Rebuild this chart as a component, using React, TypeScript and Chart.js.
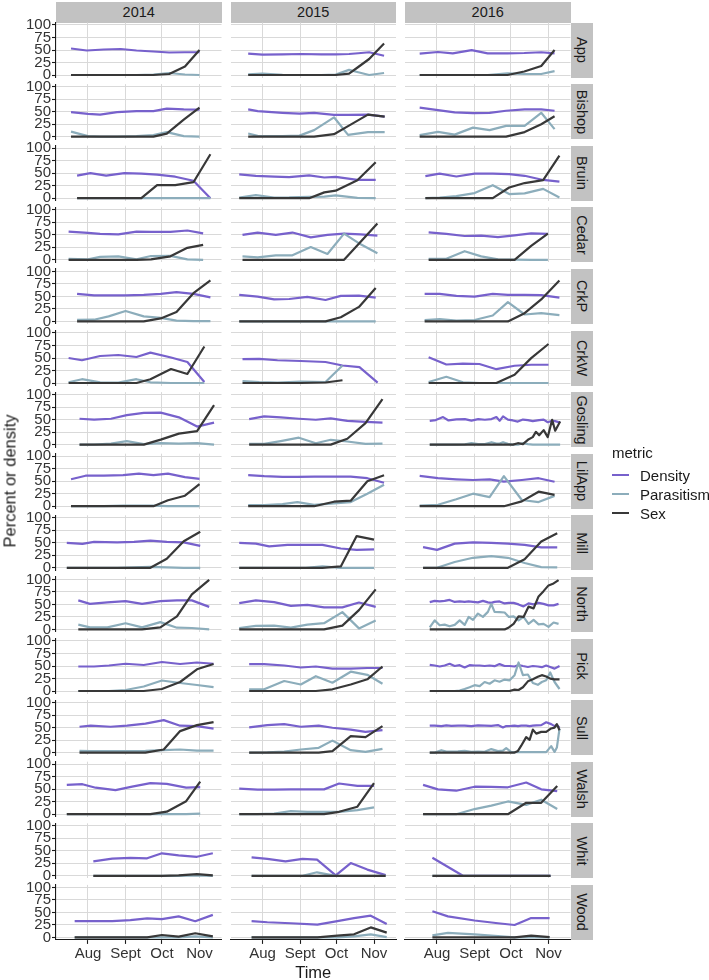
import React, { useEffect, useRef } from "react";
import { Chart, registerables } from "chart.js";

Chart.register(...registerables);

// ---------------- DATA ----------------
// x values are days relative to 1 August (Aug=0, Sept=31, Oct=61, Nov=92)
const SITES = ["App", "Bishop", "Bruin", "Cedar", "CrkP", "CrkW", "Gosling", "LilApp", "Mill", "North", "Pick", "Sull", "Walsh", "Whit", "Wood"];
const YEARS = ["2014", "2015", "2016"];
const METRICS = ["Density", "Parasitism", "Sex"];
const Y_TICKS = [0, 25, 50, 75, 100];
const X_TICK_DAYS = [0, 31, 61, 92];
const X_TICK_LABELS = ["Aug", "Sept", "Oct", "Nov"];

type V = number | null;
type Panel = { t: number[]; d: V[]; p: V[]; s: V[] };

// ---- 2014 ----
const app2014: Panel = { t: [-14, -1, 13, 27, 40, 54, 67, 80, 92], d: [53, 49, 51, 52, 49, 47, 45, 45.5, 45.5], p: [0, 0, 0, 0, 0, 1, 4, 1, 0], s: [0, 0, 0, 0, 0, 0, 2, 17, 50] };
const bishop2014: Panel = { t: [-14, 0, 10, 24, 40, 54, 65, 79, 92], d: [49, 45.5, 44, 49, 51, 51, 56, 54.5, 54], p: [10, 1, 0, 0, 1, 3, 9, 1, 0], s: [0, 0, 0, 0, 0, 0, 6, 34, 58] };
const bruin2014: Panel = { t: [-9, 2, 15, 30, 44, 57, 72, 87, 101], d: [45, 50, 45, 50, 49, 47, 43, 35, 0], p: [0, 0, 0, 0, 0, 0, 0, 0, 0], s: [0, 0, 0, 0, 0, 26, 26, 32, 88] };
const cedar2014: Panel = { t: [-16, 0, 10, 25, 40, 52, 68, 82, 95], d: [56.5, 54, 52, 51, 56.5, 56, 56, 58.6, 53], p: [2, 1, 6, 7, 1, 7.5, 8, 1, 0], s: [0, 0, 0, 0, 0, 1, 7, 24, 30] };
const crkp2014: Panel = { t: [-9, 5, 17, 31, 46, 60, 73, 87, 101], d: [55, 52, 52, 52, 53, 55, 58.6, 55, 48], p: [3, 3.4, 10, 20.7, 10, 7, 1.4, 0.5, 0.5], s: [0, 0, 0, 0, 0, 6, 18.6, 56.5, 82] };
const crkw2014: Panel = { t: [-16, -5, 10, 25, 40, 51.5, 68.5, 82, 96], d: [50, 45.5, 54, 56, 52, 60.7, 51, 42, 2], p: [1.4, 7.6, 1.4, 0.7, 7.6, 1.4, 0, 0, 0], s: [0, 0, 0, 0, 0, 7.6, 28, 18, 73] };
const gosling2014: Panel = { t: [-7, 5, 19, 32, 46, 60, 75, 90, 104], d: [51.7, 50, 51.7, 59, 63.4, 64, 54.5, 36, 44], p: [0, 0, 2, 7, 1, 3, 2, 3, 0], s: [0, 0, 0, 0, 0, 10, 22, 27, 79] };
const lilapp2014: Panel = { t: [-14, -2, 13, 29, 42, 54, 66, 80, 92], d: [54, 61, 61, 62, 65, 62, 65, 58, 54.5], p: [0, 0, 0, 1, 1, 1, 0, 0, 0], s: [0, 0, 0, 0, 0, 0, 12, 21, 44] };
const mill2014: Panel = { t: [-17.5, -4.6, 5, 24, 38, 51.5, 65, 79, 92.6], d: [49.7, 48, 52, 51, 52, 54.5, 52, 51, 44], p: [0, 0, 0, 0, 1, 2, 1, 0, 0], s: [0, 0, 0, 0, 0, 0, 18, 53, 72] };
const north2014: Panel = { t: [-8, 1.6, 16, 31, 44.6, 59.7, 73.4, 85.7, 100], d: [58, 51, 54, 56.5, 51, 56.5, 58, 58, 45], p: [9.6, 4, 4, 12.4, 4, 14.5, 3.4, 2.8, 0], s: [0, 0, 0, 0, 0, 4, 26, 70, 99] };
const pick2014: Panel = { t: [-8, 5, 17.3, 31, 46, 61, 76, 89.9, 103.6], d: [49, 49, 51, 54.5, 52, 58, 54, 57, 54.5], p: [0, 0, 0, 2, 9, 21, 16, 12, 7.6], s: [0, 0, 0, 0, 0, 4, 18, 43.4, 54] };
const sull2014: Panel = { t: [-7, 2.2, 18.6, 32.3, 47.4, 62.5, 76, 89.9, 103.6], d: [51.7, 53.8, 51.7, 53.8, 58, 65, 53.8, 53, 48], p: [3.4, 3, 2.8, 3, 3.4, 4.8, 6.2, 4, 4], s: [0, 0, 0, 0, 0, 6.2, 43, 55, 61] };
const walsh2014: Panel = { t: [-17.5, -4.6, 6.3, 22.7, 36.4, 51.5, 65, 81, 92.6], d: [58.6, 60, 53, 48, 55, 62, 60.7, 53, 54], p: [0, 0, 0, 0, 0, 0, 0, 0, 1], s: [0, 0, 0, 0, 0, 0, 5, 26, 65] };
const whit2014: Panel = { t: [4.4, 20, 35, 48.8, 61, 74.8, 89.9, 103], d: [29, 34.5, 36, 35, 45, 41, 38, 45], p: [0, 0, 0, 0, 0, 0, 1, 0], s: [0, 0, 0, 0, 0, 1, 3.4, 1] };
const wood2014: Panel = { t: [-11, 5, 20, 35, 48.8, 61, 74.8, 88.5, 103], d: [32.4, 32.4, 32.4, 34.5, 38, 36.5, 42, 32.4, 45], p: [0, 0, 0, 0, 0, 0, 0, 2, 0], s: [0, 0, 0, 0, 0, 4.8, 1.4, 8.3, 2] };

// ---- 2015 ----
const app2015: Panel = { t: [-11.8, 0, 16.5, 32, 48.4, 60.4, 71.4, 79, 88, 100.3], d: [42.8, 40.7, 41.4, 42, 41.4, 41.4, 42, 43.5, 45.5, 38.6], p: [1.4, 2.8, 0.5, 0, 0, 0.7, 10.3, 5.5, 0, 4], s: [0, 0, 0, 0, 0, 0, 2.8, 16, 32, 62.8] };
const bishop2015: Panel = { t: [-11.8, -4, 16.5, 30.5, 42.6, 59, 70.6, 87, 100.8], d: [54.5, 51, 47.6, 46, 47.6, 43.4, 43.4, 44, 40], p: [6.2, 1.4, 1, 2, 13, 38.6, 3.4, 9, 9], s: [0, 0, 0, 0, 0, 4.8, 21, 44, 40] };
const bruin2015: Panel = { t: [-19.2, -5.5, 9.6, 22, 38.5, 51, 60.4, 78.3, 93.4], d: [47.6, 44.5, 43, 42, 45.5, 41.4, 42.8, 36.5, 36.5], p: [1.4, 6.2, 1.4, 1.5, 2.8, 3, 5.5, 0.7, 0], s: [0, 0, 0, 0, 0, 11.7, 15, 36, 72] };
const cedar2015: Panel = { t: [-16.5, -4, 11, 24.7, 39.8, 53.6, 67.3, 81, 94.8], d: [49.7, 54.5, 49.7, 54.5, 44.8, 49.7, 52.4, 51, 48.3], p: [7, 5, 9, 9, 25.5, 11.7, 52.4, 31, 13], s: [0, 0, 0, 0, 0, 0, 0, 36, 72.4] };
const crkp2015: Panel = { t: [-19.2, -4, 9.6, 22, 37, 52, 64.6, 79.6, 93.4], d: [53, 49.7, 44, 44.8, 49, 42.8, 51, 51.7, 47.6], p: [0, 0, 0, 0, 0, 0, 0, 0, 0], s: [0, 0, 0, 0, 0, 0, 8.3, 29, 67] };
const crkw2015: Panel = { t: [-16.5, -2.7, 12.4, 31.6, 52, 66, 80, 95], d: [47.6, 48.3, 45.5, 44, 42, 35, 31.7, 0.7], p: [4, 2, 1, 2.8, 2, 35, null, null], s: [0, 0, 0, 0, 1, 5.5, null, null] };
const gosling2015: Panel = { t: [-11, 1.4, 15, 30, 44, 56.3, 70, 85, 99], d: [51, 56.5, 54.5, 51.7, 49.7, 52.4, 47.6, 45.5, 44], p: [1.4, 1.4, 7, 13.8, 2.8, 9.6, 6.2, 1.4, 2], s: [0, 0, 0, 0, 0, 0, 11.7, 42.8, 91] };
const lilapp2015: Panel = { t: [-11.8, 1.4, 16.5, 28.8, 42.6, 59, 72.8, 86.5, 100.3], d: [62, 60, 58.6, 58.6, 59, 59, 59, 56, 47], p: [2, 2, 4, 8.3, 2.8, 5.5, 8.3, 25, 43], s: [0, 0, 0, 0, 0, 9, 11, 50, 62] };
const mill2015: Panel = { t: [-19.2, -5.5, 5.5, 20.6, 35.7, 49.5, 64.6, 77.7, 92], d: [49.7, 48.3, 42.8, 46, 46, 46, 38.6, 35.9, 37], p: [0, 0, 0, 0, 0, 2.8, 0, 0, 0], s: [0, 0, 0, 0, 0, 0, 2.8, 63.4, 56.5] };
const north2015: Panel = { t: [-19.2, -5.5, 9.6, 23.4, 37, 50.8, 65.9, 79.6, 93.4], d: [52.4, 58, 54.5, 47, 49, 44, 44, 53.8, 45], p: [2.8, 7, 7.6, 3.4, 9.6, 12.4, 34.5, 2, 18], s: [0, 0, 0, 0, 0, 0, 7.6, 38.6, 80] };
const pick2015: Panel = { t: [-11, 1.4, 17.9, 31.6, 44, 57.7, 72.8, 86.5, 99], d: [53.8, 53.8, 51, 47, 49, 44.8, 44.8, 46, 46], p: [3.4, 3.4, 20, 13, 29.6, 16.5, 38.6, 32.4, 14.5], s: [0, 0, 0, 0, 0, 3.4, 13, 23.4, 49] };
const sull2015: Panel = { t: [-11, 4, 17.9, 31.6, 46.4, 57.7, 72.8, 85, 99], d: [50.3, 55, 57, 51.7, 53.8, 49.7, 46, 41.4, 44.8], p: [0, 0.5, 2, 6.2, 9.6, 24, 4.8, 1.4, 7.6], s: [0, 0, 0, 0, 0, 2.8, 33, 31, 53] };
const walsh2015: Panel = { t: [-19.2, -4, 9.6, 23.4, 37, 50.8, 63.2, 78.3, 92], d: [51, 49, 49, 49.7, 49.7, 49.7, 61.4, 56.5, 56.5], p: [0, 0, 1.4, 6.2, 4.8, 4.8, 4.8, 8.3, 13.8], s: [0, 0, 0, 0, 0, 0, 4.8, 15, 62] };
const whit2015: Panel = { t: [-9, 4, 19, 33, 45, 60.4, 72.8, 86.5, 101.6], d: [37, 33.8, 29, 33.8, 32.4, 0.7, 25.5, 12.4, 1.4], p: [0, 0, 0, 0, 7, 0, 0, 0, 0], s: [0, 0, 0, 0, 0, 0, 0, 0, 0] };
const wood2015: Panel = { t: [-9, 4, 23.4, 45.3, 61.8, 75.5, 89.3, 102.5], d: [32.4, 30.3, 28.3, 25.5, 32.4, 38.6, 43.4, 27], p: [0, 0, 0, 0, 0, 2, 6.2, 0.7], s: [0, 0, 0, 0, 3.4, 6.2, 20, 9.6] };

// ---- 2016 ----
const app2016: Panel = { t: [-14.3, 0.8, 13, 28.6, 41.8, 58.2, 72, 86, 97], d: [42.8, 46, 43.4, 49.7, 43.4, 43.4, 44, 45.5, 43.4], p: [0, 0, 0, 0, 0, 3.4, 2, 2, 7.6], s: [0, 0, 0, 0, 0, 0, 7, 18, 50] };
const bishop2016: Panel = { t: [-14.3, 0.8, 14.6, 29.7, 43.4, 57, 72.3, 86, 97], d: [58, 53, 48.3, 47, 47.6, 51.7, 54.5, 54.5, 51.7], p: [2.8, 9.6, 4, 18, 13, 21.4, 21.4, 47.6, 15], s: [0, 0, 0, 0, 0, 0, 9, 24.8, 40.7] };
const bruin2016: Panel = { t: [-9.6, 2.2, 16, 31, 46, 59.6, 72.3, 87.6, 101], d: [44, 49, 43.4, 49, 49, 48.3, 44.8, 36.5, 33], p: [0, 1, 4, 10.3, 26, 8.3, 9.6, 18.6, 1.4], s: [0, 0, 0, 0, 0, 21.4, 30.3, 36, 85] };
const cedar2016: Panel = { t: [-6.9, 7.7, 22.8, 36.5, 50.3, 64, 77.7, 91.5], d: [55, 51.7, 47.6, 48.3, 45.5, 49, 53, 51.7], p: [2, 2, 17.2, 6.9, 0.7, 0.5, 0, 0], s: [0, 0, 0, 0, 0, 0, 28, 52.4] };
const crkp2016: Panel = { t: [-10.2, 2.2, 16, 31, 46, 58.5, 72.3, 86, 101], d: [55, 55, 51, 49.7, 55, 53, 53, 52.4, 47.6], p: [2.8, 4.8, 1.4, 2.8, 11.7, 38.6, 13.8, 16.5, 12.4], s: [0, 0, 0, 0, 0, 0, 16.5, 44, 82] };
const crkw2016: Panel = { t: [-6.9, 7.7, 21.4, 35, 49, 64, 77.7, 92], d: [51.7, 37, 38.6, 38, 27.6, 34.5, 36.5, 36.5], p: [2, 12.4, 1.4, 0, 0, 0, 0, 0], s: [0, 0, 0, 0, 0, 16.5, 49.7, 78] };
const gosling2016: Panel = {
  t: [-6, -1, 5, 9.5, 16, 23, 28.4, 34, 39.5, 45, 49, 51.7, 54.5, 58.5, 62.6, 66.7, 70.9, 75, 79, 81.6, 84.3, 88, 91.4, 95, 97.5, 101.6],
  d: [47.6, 49, 55, 48.3, 50.3, 51, 48, 51, 49.7, 51, 55, 47.6, 56.5, 50, 48.3, 46, 50, 49, 47, 48, 49, 50, 44.8, 47.6, 47, 44],
  p: [0, 0, 0, 0, 0, 0.5, 2.8, 1, 1, 4.8, 2, 2, 4.8, 1.4, 0, 0, 2.8, 1, 0, 0, 0, 0, 0, 0, 0, 0],
  s: [0, 0, 0, 0, 0, 0, 0, 0, 0, 0, 0, 0, 0, 0, 0, 2.8, 1, 9.6, 15, 25.5, 18.6, 29, 15, 49.7, 27.6, 46],
};
const lilapp2016: Panel = { t: [-14.3, 0.8, 15.9, 29.7, 43.4, 55.2, 70, 83.8, 97], d: [60.7, 56, 53.8, 52.4, 53.8, 49, 52.4, 56, 49], p: [1.4, 2.8, 13.8, 25, 18, 60, 12.4, 8.3, 20.7], s: [0, 0, 0, 0, 0, 0, 9.6, 29, 22.8] };
const mill2016: Panel = { t: [-11.5, 0, 14.6, 29.7, 44.8, 58.5, 72.3, 86, 99.2], d: [41.4, 35.9, 48.3, 51, 49.7, 48.3, 46, 40.7, 40.7], p: [0, 0, 11.7, 20, 23.4, 20, 9.6, 1.4, 1], s: [0, 0, 0, 0, 0, 0, 17, 52.4, 69] };
const north2016: Panel = {
  t: [-6, -1.9, 2.2, 6.3, 10.4, 14.6, 18.7, 22.8, 26.1, 29.7, 33.8, 37.9, 42, 44.8, 47.5, 51.6, 55.8, 59.3, 63.2, 67.3, 71.4, 75.5, 79.7, 83.8, 87.9, 92, 96.2, 100.3],
  d: [54.5, 57, 56, 57, 59, 55, 56, 55, 56, 55, 54, 57, 54, 53, 55, 56, 52, 53, 53, 50, 46, 52, 50, 53, 51, 48, 48, 51],
  p: [4, 18, 8.3, 9.6, 6.2, 9, 18, 9, 25, 19, 31.7, 25, 35, 51, 35, 34.5, 33.8, 25, 26, 18, 25, 11, 19, 10, 11, 5, 13.8, 11],
  s: [0, 0, 0, 0, 0, 0, 0, 0, 0, 0, 0, 0, 0, 0, 0, 0, 0, 4, 11, 26, 25, 45.5, 42, 66, 76.5, 88, 92, 98.6],
};
const pick2016: Panel = {
  t: [-6, -1.9, 2.2, 6.3, 10.4, 14.6, 18.7, 22.8, 26.9, 31, 35.2, 39.3, 43.4, 47.5, 51.6, 55.8, 59.9, 64, 67.3, 70.9, 75, 79.1, 83.2, 86.5, 90.1, 93.4, 97, 101.1],
  d: [52.4, 51, 49, 51, 54.5, 50, 51.7, 47, 51.7, 51, 51, 50, 51, 49.7, 53.8, 50, 50, 49, 52, 50, 48, 50, 49, 47.6, 51, 48, 44.8, 50],
  p: [0, 0, 0, 0, 0, 0, 0.7, 4, 7.6, 11.7, 9.6, 18, 14.5, 21.4, 18.6, 22.8, 21.4, 31.7, 57, 31.7, 33, 15.9, 12.4, 18, 21.4, 37, 18, 4],
  s: [0, 0, 0, 0, 0, 0, 0, 0, 0, 0, 0, 0, 0, 0, 0, 0, 0, 2.8, 2, 7.6, 19.3, 23.4, 28.3, 31.7, 29, 24.8, 23.4, 23.4],
};
const sull2016: Panel = {
  t: [-6, -1.9, 3.6, 7.7, 11.8, 17.3, 22.8, 28.3, 33.8, 39.3, 44.8, 50.3, 54.4, 57.1, 61.3, 64, 66.8, 69.5, 73.6, 76.4, 79.1, 81.9, 86, 90.1, 94.2, 97, 98.9, 101.1],
  d: [53.8, 54, 53, 54.5, 53.5, 54, 53.8, 53, 54.5, 54, 53.5, 55, 50.3, 53, 53.5, 54, 53, 53.8, 54, 53, 53.8, 54.5, 55, 60.7, 57, 53, 55, 49.7],
  p: [0, 0, 4.8, 2, 2, 2.5, 3.4, 1.5, 2, 1.5, 7, 3, 4, 9, 1, 1, 1, 1, 1, 1, 1, 1, 1, 1, 13, 1.4, 10, 48],
  s: [0, 0, 0, 0, 0, 0, 0, 0, 0, 0, 0, 0, 0, 0, 0, 0, 3.4, 13.8, 31, 25.5, 46, 38, 41.4, 41.4, 48.3, 50, 57, 44.8],
};
const walsh2016: Panel = { t: [-11.5, 0.8, 15.9, 31, 44.8, 58.5, 73.6, 86, 99.2], d: [58.6, 49.7, 47, 55, 54.5, 53.8, 63.4, 49.7, 46], p: [0, 0, 0, 10.3, 17.2, 25.5, 18.6, 29, 10.3], s: [0, 0, 0, 0, 0, 0, 22.8, 22.8, 56.5] };
const whit2016: Panel = { t: [-3.8, 21.4, 45, 70, 93.7], d: [36, 0, 0, 0, 0], p: [0, 0, 0, 0, 0], s: [0, 0, 0, 0, 0] };
const wood2016: Panel = { t: [-3.8, 9, 31, 50.3, 64, 77.7, 92.9], d: [52.4, 42, 33.8, 28.3, 24.8, 38.6, 38.6], p: [4, 9, 6.2, 2.8, 0, 0, 0], s: [0, 0, 0, 0, 0, 3.4, 0.7] };

const GRID: Panel[][] = [
  [app2014, app2015, app2016],
  [bishop2014, bishop2015, bishop2016],
  [bruin2014, bruin2015, bruin2016],
  [cedar2014, cedar2015, cedar2016],
  [crkp2014, crkp2015, crkp2016],
  [crkw2014, crkw2015, crkw2016],
  [gosling2014, gosling2015, gosling2016],
  [lilapp2014, lilapp2015, lilapp2016],
  [mill2014, mill2015, mill2016],
  [north2014, north2015, north2016],
  [pick2014, pick2015, pick2016],
  [sull2014, sull2015, sull2016],
  [walsh2014, walsh2015, walsh2016],
  [whit2014, whit2015, whit2016],
  [wood2014, wood2015, wood2016],
];

// ---------------- STYLE / LAYOUT ----------------
const COLORS = ["#7761CC", "#8CADBB", "#383838"];
const FONT = "'Liberation Sans', Arial, Helvetica, sans-serif";
const GRID_COLOR = "#D9D9D9";
const AXIS_COLOR = "#1A1A1A";
const TICK_COLOR = "#333333";
const STRIP_BG = "#C2C2C2";

const PLOT_LEFT = [56, 230.5, 405];
const PLOT_W = 165.5;
const PLOT_TOP = 22.5;
const ROW_PITCH = 61.6;
const PLOT_H = 55;
const PX_PER_DAY = 1.212;
const X_MIN = -26.4;
const X_MAX = X_MIN + PLOT_W / PX_PER_DAY;
const STRIP_X = 571;
const STRIP_W = 21.5;

Chart.defaults.font.family = FONT;

function PanelChart({ row, col, panel }: { row: number; col: number; panel: Panel }) {
  const ref = useRef<HTMLCanvasElement | null>(null);
  const isLeft = col === 0;
  const isBottom = row === SITES.length - 1;
  const plotLeft = PLOT_LEFT[col];
  const plotTop = PLOT_TOP + row * ROW_PITCH;
  const cLeft = isLeft ? 0 : Math.floor(plotLeft) - 2;
  const cTop = Math.floor(plotTop) - 10;
  const axisW = isLeft ? plotLeft - cLeft : 0;
  const padLeft = isLeft ? 0 : plotLeft - cLeft;
  const padTop = plotTop - cTop;
  const axisH = isBottom ? 30 : 0;
  const cW = Math.ceil(plotLeft + PLOT_W - cLeft) + 4;
  const padRight = cW - padLeft - axisW - PLOT_W;
  const cH = Math.ceil(padTop + PLOT_H + axisH) + 10;
  const padBottom = cH - padTop - PLOT_H - axisH;

  useEffect(() => {
    if (!ref.current) return;
    const series = [panel.d, panel.p, panel.s];
    const datasets = series.map((vals, k) => ({
      label: METRICS[k],
      data: panel.t.map((x, i) => ({ x, y: vals[i] })),
      borderColor: COLORS[k],
      backgroundColor: COLORS[k],
      borderWidth: 2.2,
      pointRadius: 0,
      tension: 0,
      fill: false,
      spanGaps: false,
      borderJoinStyle: "round" as const,
      order: 2 - k,
    }));
    const chart = new Chart(ref.current, {
      type: "line",
      data: { datasets },
      options: {
        responsive: false,
        animation: false,
        devicePixelRatio: 1,
        events: [],
        layout: { padding: { left: padLeft, right: padRight, top: padTop, bottom: padBottom } },
        plugins: { legend: { display: false }, tooltip: { enabled: false } },
        scales: {
          x: {
            type: "linear",
            min: X_MIN,
            max: X_MAX,
            afterBuildTicks: (ax: any) => {
              ax.ticks = X_TICK_DAYS.map((v) => ({ value: v }));
            },
            afterFit: (ax: any) => {
              ax.height = axisH;
              ax.paddingLeft = 0;
              ax.paddingRight = 0;
              ax.paddingTop = 0;
              ax.paddingBottom = 0;
            },
            grid: { color: GRID_COLOR, lineWidth: 1, drawTicks: isBottom, tickLength: 4, tickColor: AXIS_COLOR, tickWidth: 1.1 },
            border: { display: isBottom, color: AXIS_COLOR, width: 1.1 },
            ticks: {
              display: isBottom,
              autoSkip: false,
              maxRotation: 0,
              padding: 1,
              color: TICK_COLOR,
              font: { size: 15, family: FONT },
              callback: (v: any) => {
                const i = X_TICK_DAYS.indexOf(Number(v));
                return i >= 0 ? X_TICK_LABELS[i] : "";
              },
            },
          },
          y: {
            type: "linear",
            min: -5,
            max: 105,
            afterBuildTicks: (ax: any) => {
              ax.ticks = Y_TICKS.map((v) => ({ value: v }));
            },
            afterFit: (ax: any) => {
              ax.width = axisW;
              ax.paddingLeft = 0;
              ax.paddingRight = 0;
              ax.paddingTop = 0;
              ax.paddingBottom = 0;
            },
            grid: { color: GRID_COLOR, lineWidth: 1, drawTicks: isLeft, tickLength: 4, tickColor: AXIS_COLOR, tickWidth: 1.1 },
            border: { display: isLeft, color: AXIS_COLOR, width: 1.1 },
            ticks: {
              display: isLeft,
              autoSkip: false,
              padding: 1,
              color: TICK_COLOR,
              font: { size: 15, family: FONT },
              callback: (v: any) => String(v),
            },
          },
        },
      } as any,
    });
    return () => chart.destroy();
  }, []);

  return (
    <canvas
      ref={ref}
      width={cW}
      height={cH}
      style={{ position: "absolute", left: cLeft, top: cTop, width: cW, height: cH }}
    />
  );
}

export default function App() {
  const totalBottom = PLOT_TOP + (SITES.length - 1) * ROW_PITCH + PLOT_H;
  return (
    <div
      style={{
        position: "absolute",
        left: 0,
        top: 0,
        width: 709,
        height: 980,
        background: "#FFFFFF",
        fontFamily: FONT,
        color: "#1A1A1A",
        overflow: "hidden",
      }}
    >
      {YEARS.map((y, c) => (
        <div
          key={"ys" + y}
          style={{
            position: "absolute",
            left: PLOT_LEFT[c],
            top: 1.5,
            width: PLOT_W,
            height: 21,
            background: STRIP_BG,
            fontSize: 14.5,
            lineHeight: "21px",
            textAlign: "center",
          }}
        >
          {y}
        </div>
      ))}
      {SITES.map((s, r) => (
        <div
          key={"ss" + s}
          style={{
            position: "absolute",
            left: STRIP_X,
            top: PLOT_TOP + r * ROW_PITCH,
            width: STRIP_W,
            height: PLOT_H,
            background: STRIP_BG,
          }}
        >
          <div
            style={{
              position: "absolute",
              left: STRIP_W / 2,
              top: PLOT_H / 2,
              transform: "translate(-50%, -50%) rotate(90deg)",
              fontSize: 14.5,
              whiteSpace: "nowrap",
              lineHeight: "16px",
            }}
          >
            {s}
          </div>
        </div>
      ))}
      {GRID.map((rowPanels, r) =>
        rowPanels.map((p, c) => <PanelChart key={r + "-" + c} row={r} col={c} panel={p} />)
      )}
      <div
        style={{
          position: "absolute",
          left: 10,
          top: (PLOT_TOP + totalBottom) / 2,
          transform: "translate(-50%, -50%) rotate(-90deg)",
          fontSize: 16.5,
          whiteSpace: "nowrap",
        }}
      >
        Percent or density
      </div>
      <div
        style={{
          position: "absolute",
          left: (PLOT_LEFT[0] + PLOT_LEFT[2] + PLOT_W) / 2,
          top: 972,
          transform: "translate(-50%, -50%)",
          fontSize: 16.5,
          whiteSpace: "nowrap",
        }}
      >
        Time
      </div>
      <div style={{ position: "absolute", left: 612, top: 444, fontSize: 15, whiteSpace: "nowrap" }}>metric</div>
      {METRICS.map((m, k) => (
        <div key={"lg" + m}>
          <div
            style={{
              position: "absolute",
              left: 612,
              top: 475 + k * 19 - 1,
              width: 17,
              height: 2.2,
              background: COLORS[k],
            }}
          />
          <div
            style={{
              position: "absolute",
              left: 640,
              top: 475 + k * 19,
              transform: "translateY(-50%)",
              fontSize: 15,
              whiteSpace: "nowrap",
            }}
          >
            {m}
          </div>
        </div>
      ))}
    </div>
  );
}
